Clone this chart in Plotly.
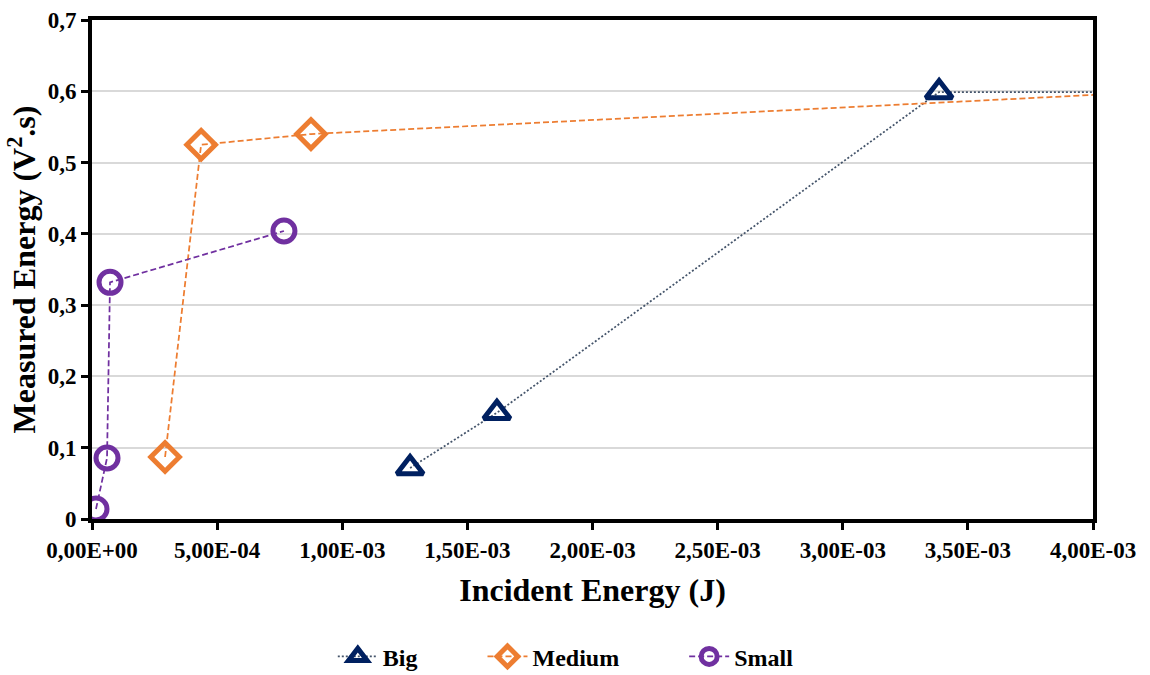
import plotly.graph_objects as go

# Incident energy (J) vs measured energy (V².s) for three sample sizes
big_x = [1.271e-3, 1.618e-3, 3.385e-3, 6.0e-3]
big_y = [0.0715, 0.149, 0.599, 0.599]

medium_x = [0.292e-3, 0.436e-3, 0.875e-3, 6.0e-3]
medium_y = [0.087, 0.525, 0.540, 0.630]

small_x = [0.016e-3, 0.060e-3, 0.072e-3, 0.767e-3]
small_y = [0.014, 0.0856, 0.332, 0.404]

x_ticks = [0, 0.5e-3, 1.0e-3, 1.5e-3, 2.0e-3, 2.5e-3, 3.0e-3, 3.5e-3, 4.0e-3]
x_labels = ["0,00E+00", "5,00E-04", "1,00E-03", "1,50E-03", "2,00E-03",
            "2,50E-03", "3,00E-03", "3,50E-03", "4,00E-03"]
y_ticks = [0, 0.1, 0.2, 0.3, 0.4, 0.5, 0.6, 0.7]
y_labels = ["0", "0,1", "0,2", "0,3", "0,4", "0,5", "0,6", "0,7"]

FONT = "Liberation Serif, Times New Roman, serif"
PAD = "&nbsp;" * 10  # extra room between legend entries

fig = go.Figure()

fig.add_trace(go.Scatter(
    x=big_x, y=big_y, name="<b>Big</b>" + PAD, mode="lines+markers",
    line=dict(color="#44546A", width=1.75, dash="2px,2px"),
    marker=dict(symbol="triangle-up-open", size=23, color="#002060",
                line=dict(width=5, color="#002060")),
))
fig.add_trace(go.Scatter(
    x=medium_x, y=medium_y, name="<b>Medium</b>" + PAD, mode="lines+markers",
    line=dict(color="#ED7D31", width=1.75, dash="6px,3px"),
    marker=dict(symbol="diamond-open", size=22, color="#ED7D31",
                line=dict(width=5, color="#ED7D31")),
))
fig.add_trace(go.Scatter(
    x=small_x, y=small_y, name="<b>Small</b>", mode="lines+markers",
    line=dict(color="#7030A0", width=1.75, dash="6px,3px"),
    marker=dict(symbol="circle-open", size=22, color="#7030A0",
                line=dict(width=5, color="#7030A0")),
))

fig.update_layout(
    width=1150, height=675,
    margin=dict(l=92, r=57, t=20, b=156),
    paper_bgcolor="white", plot_bgcolor="white",
    font=dict(family=FONT, color="black", size=22),
    showlegend=True,
    legend=dict(orientation="h", xref="container", x=0.492, xanchor="center",
                yref="container", y=0.027, yanchor="middle",
                font=dict(family=FONT, size=24, color="black"),
                itemwidth=40, tracegroupgap=0),
    xaxis=dict(
        range=[0, 4.0e-3], tickvals=x_ticks, ticktext=x_labels,
        showgrid=False, zeroline=False, automargin=False,
        showline=True, linecolor="black", linewidth=4, mirror=True,
        ticks="outside", ticklen=7, tickwidth=3, tickcolor="black",
        tickfont=dict(family=FONT, size=23, color="black", weight="bold"),
        title=dict(text="<b>Incident Energy (J)</b>",
                   font=dict(family=FONT, size=32, color="black"), standoff=18),
    ),
    yaxis=dict(
        range=[0, 0.7], tickvals=y_ticks, ticktext=y_labels,
        showgrid=True, gridcolor="#D9D9D9", gridwidth=1.5, zeroline=False,
        automargin=False,
        showline=True, linecolor="black", linewidth=4, mirror=True,
        ticks="outside", ticklen=7, tickwidth=3, tickcolor="black",
        tickfont=dict(family=FONT, size=23, color="black", weight="bold"),
        title=dict(text="<b>Measured Energy (V<sup>2</sup>.s)</b>",
                   font=dict(family=FONT, size=32, color="black"), standoff=3),
    ),
)

fig.write_html("out.html")
